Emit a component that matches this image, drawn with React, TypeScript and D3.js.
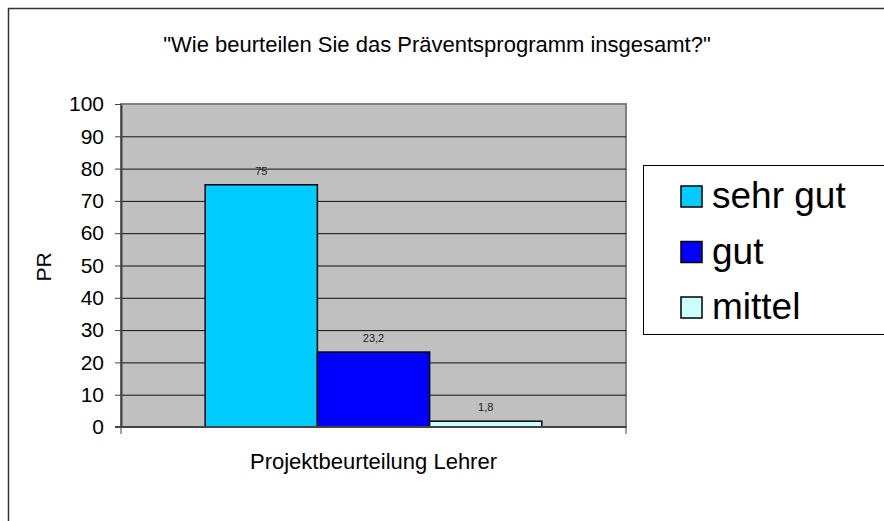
import React, { useEffect, useRef } from 'react';
import * as d3 from 'd3';

const categories = ['sehr gut', 'gut', 'mittel'];
const values = [75, 23.2, 1.8];
const valueLabels = ['75', '23,2', '1,8'];
const colors = ['#00CCFF', '#0000FF', '#CCFFFF'];
const yTicks = [0, 10, 20, 30, 40, 50, 60, 70, 80, 90, 100];

const App = () => {
  const svgRef = useRef<SVGSVGElement>(null);

  useEffect(() => {
    const width = 884;
    const height = 521;
    const plot = { left: 121, right: 626, top: 104, bottom: 427 };
    const font = 'Liberation Sans, Arial, sans-serif';

    const svg = d3.select(svgRef.current)
      .attr('width', width)
      .attr('height', height);
    svg.selectAll('*').remove();

    // outer chart frame (runs off the page right and bottom)
    svg.append('rect')
      .attr('x', 8.5).attr('y', 8.5)
      .attr('width', 900).attr('height', 600)
      .attr('fill', '#fff')
      .attr('stroke', '#333')
      .attr('stroke-width', 1.5);

    svg.append('text')
      .attr('x', 437).attr('y', 52)
      .attr('text-anchor', 'middle')
      .style('font-family', font)
      .style('font-size', '22px')
      .text('"Wie beurteilen Sie das Präventsprogramm insgesamt?"');

    const yScale = d3.scaleLinear()
      .domain([0, 100])
      .range([plot.bottom, plot.top]);

    const groupScale = d3.scaleBand()
      .domain(['Projektbeurteilung Lehrer'])
      .range([plot.left, plot.right]);

    const barScale = d3.scaleBand()
      .domain(categories)
      .range([0, groupScale.bandwidth()])
      .paddingOuter(0.75)
      .paddingInner(0);

    // plot background
    svg.append('rect')
      .attr('x', plot.left).attr('y', plot.top)
      .attr('width', plot.right - plot.left)
      .attr('height', plot.bottom - plot.top)
      .attr('fill', '#C0C0C0')
      .attr('stroke', '#808080')
      .attr('stroke-width', 2);

    // gridlines
    svg.append('g')
      .selectAll('line')
      .data(yTicks.filter(d => d > 0 && d < 100))
      .join('line')
      .attr('x1', plot.left).attr('x2', plot.right)
      .attr('y1', d => yScale(d) + 0.5).attr('y2', d => yScale(d) + 0.5)
      .attr('stroke', '#111')
      .attr('stroke-width', 1);

    // y axis
    const yAxis = svg.append('g')
      .attr('transform', `translate(${plot.left},0)`)
      .call(d3.axisLeft(yScale).tickValues(yTicks).tickSize(6).tickPadding(11).tickSizeOuter(0));
    yAxis.select('.domain').attr('stroke', '#444').attr('stroke-width', 2);
    yAxis.selectAll('.tick line').attr('stroke', '#444');
    yAxis.selectAll('.tick text')
      .attr('fill', '#000')
      .style('font-family', font)
      .style('font-size', '21px');

    // bars
    const gx = groupScale('Projektbeurteilung Lehrer') as number;
    svg.append('g')
      .selectAll('rect')
      .data(values)
      .join('rect')
      .attr('x', (d, i) => gx + (barScale(categories[i]) as number))
      .attr('y', d => yScale(d))
      .attr('width', barScale.bandwidth())
      .attr('height', d => plot.bottom - yScale(d))
      .attr('fill', (d, i) => colors[i])
      .attr('stroke', '#000')
      .attr('stroke-width', 1.5);

    svg.append('g')
      .selectAll('text')
      .data(values)
      .join('text')
      .attr('x', (d, i) => gx + (barScale(categories[i]) as number) + barScale.bandwidth() / 2)
      .attr('y', d => yScale(d) - 10)
      .attr('text-anchor', 'middle')
      .style('font-family', font)
      .style('font-size', '11px')
      .attr('fill', '#222')
      .text((d, i) => valueLabels[i]);

    // x axis
    svg.append('line')
      .attr('x1', plot.left - 6).attr('x2', plot.right)
      .attr('y1', plot.bottom).attr('y2', plot.bottom)
      .attr('stroke', '#444').attr('stroke-width', 2);
    svg.append('g')
      .selectAll('line')
      .data([plot.left, plot.right])
      .join('line')
      .attr('x1', d => d).attr('x2', d => d)
      .attr('y1', plot.bottom).attr('y2', plot.bottom + 7)
      .attr('stroke', '#444').attr('stroke-width', 1);

    svg.append('text')
      .attr('x', gx + groupScale.bandwidth() / 2).attr('y', 469)
      .attr('text-anchor', 'middle')
      .style('font-family', font)
      .style('font-size', '22px')
      .text('Projektbeurteilung Lehrer');

    svg.append('text')
      .attr('transform', 'translate(51,267) rotate(-90)')
      .attr('text-anchor', 'middle')
      .style('font-family', font)
      .style('font-size', '21px')
      .text('PR');

    // legend
    const legend = svg.append('g');
    legend.append('rect')
      .attr('x', 643.5).attr('y', 165.5)
      .attr('width', 260).attr('height', 169)
      .attr('fill', '#fff')
      .attr('stroke', '#000')
      .attr('stroke-width', 1);

    const rows = legend.selectAll('g.row')
      .data(categories)
      .join('g')
      .attr('class', 'row')
      .attr('transform', (d, i) => `translate(681,${207 + i * 55.5})`);
    rows.append('rect')
      .attr('x', 0).attr('y', -21)
      .attr('width', 21).attr('height', 21)
      .attr('fill', (d, i) => colors[i])
      .attr('stroke', '#000')
      .attr('stroke-width', 1.5);
    rows.append('text')
      .attr('x', 31).attr('y', 1)
      .style('font-family', font)
      .style('font-size', '37px')
      .text(d => d);
  }, []);

  return <svg ref={svgRef} style={{ position: 'absolute', left: 0, top: 0 }}></svg>;
};

export default App;
